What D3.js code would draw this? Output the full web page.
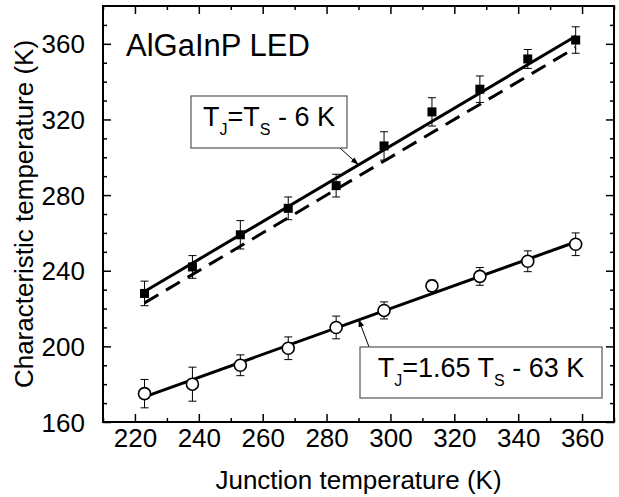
<!DOCTYPE html>
<html lang="en">
<head>
    <meta charset="UTF-8">
    <title>AlGaInP LED characteristic temperature</title>
    <script src="https://d3js.org/d3.v7.min.js"></script>
    <style>
        body { margin: 0; background: #fff; }
        text { font-family: "Liberation Sans", Arial, sans-serif; fill: #000; }
        .axis path { display: none; }
        .axis line { stroke: #000; stroke-width: 1.5; }
        .axis text { font-size: 26px; }
    </style>
</head>
<body>
    <svg id="chart" width="619" height="497"></svg>

    <script>
        // junction temperature (x) for every measured point
        const junctionT = [223, 238, 253, 268, 283, 298, 313, 328, 343, 358];
        // filled squares
        const squareT = [228, 242, 259, 273, 285, 306, 324, 336, 352, 362];
        const squareErr = [6.5, 6, 7.5, 6, 6, 7.5, 7.5, 7, 5, 7];
        // open circles
        const circleT = [175, 180, 190, 199, 210, 219, 232, 237, 245, 254];
        const circleErr = [7.5, 9, 5.5, 6, 6, 4.5, 3, 4.7, 5.5, 6];
        // fitted lines, end points [Tj, Ts]
        const fitSquare = [[223, 229], [358, 364]];
        const fitDashed = [[223, 223], [358, 358]];
        const fitCircle = [[223, 173.3], [358, 255.2]];

        const xTicks = [220, 240, 260, 280, 300, 320, 340, 360];
        const xMinor = [210, 230, 250, 270, 290, 310, 330, 350, 370];
        const yTicks = [160, 200, 240, 280, 320, 360];
        const yMinor = [170, 180, 190, 210, 220, 230, 250, 260, 270, 290, 300, 310, 330, 340, 350, 370];

        const svg = d3.select("#chart");
        const W = 619, H = 497;
        const m = { left: 103, right: 5, top: 6, bottom: 75 };

        const x = d3.scaleLinear().domain([210, 370]).range([m.left, W - m.right]);
        const y = d3.scaleLinear().domain([160, 380]).range([H - m.bottom, m.top]);

        // axes, ticks pointing inward on all four sides
        const bottom = H - m.bottom, right = W - m.right;
        svg.append("g").attr("class", "axis").attr("transform", `translate(0,${bottom})`)
            .call(d3.axisBottom(x).tickValues(xTicks).tickSize(-8).tickPadding(16).tickFormat(d3.format("d")));
        svg.append("g").attr("class", "axis").attr("transform", `translate(0,${bottom})`)
            .call(d3.axisBottom(x).tickValues(xMinor).tickSize(-4).tickFormat(""));
        svg.append("g").attr("class", "axis").attr("transform", `translate(0,${m.top})`)
            .call(d3.axisTop(x).tickValues(xTicks).tickSize(-8).tickFormat(""));
        svg.append("g").attr("class", "axis").attr("transform", `translate(0,${m.top})`)
            .call(d3.axisTop(x).tickValues(xMinor).tickSize(-4).tickFormat(""));

        svg.append("g").attr("class", "axis").attr("transform", `translate(${m.left},0)`)
            .call(d3.axisLeft(y).tickValues(yTicks).tickSize(-8).tickPadding(18).tickFormat(d3.format("d")));
        svg.append("g").attr("class", "axis").attr("transform", `translate(${m.left},0)`)
            .call(d3.axisLeft(y).tickValues(yMinor).tickSize(-4).tickFormat(""));
        svg.append("g").attr("class", "axis").attr("transform", `translate(${right},0)`)
            .call(d3.axisRight(y).tickValues(yTicks).tickSize(-8).tickFormat(""));
        svg.append("g").attr("class", "axis").attr("transform", `translate(${right},0)`)
            .call(d3.axisRight(y).tickValues(yMinor).tickSize(-4).tickFormat(""));

        svg.selectAll(".axis text").attr("dy", null).attr("dominant-baseline", "central");

        svg.append("rect")
            .attr("x", m.left).attr("y", m.top)
            .attr("width", right - m.left).attr("height", bottom - m.top)
            .attr("fill", "none").attr("stroke", "#000").attr("stroke-width", 2);

        // axis titles
        svg.append("text").attr("x", (m.left + right) / 2).attr("y", 489)
            .attr("text-anchor", "middle").style("font-size", "26px")
            .text("Junction temperature (K)");
        svg.append("text")
            .attr("transform", `translate(33,${(m.top + bottom) / 2}) rotate(-90)`)
            .attr("text-anchor", "middle").style("font-size", "26px")
            .text("Characteristic temperature (K)");

        svg.append("text").attr("x", 126).attr("y", 56).style("font-size", "31px").text("AlGaInP LED");

        // fitted lines
        const line = d3.line().x(d => x(d[0])).y(d => y(d[1]));
        svg.append("path").datum(fitDashed).attr("d", line)
            .attr("fill", "none").attr("stroke", "#000").attr("stroke-width", 3).attr("stroke-dasharray", "16,9");
        svg.append("path").datum(fitSquare).attr("d", line)
            .attr("fill", "none").attr("stroke", "#000").attr("stroke-width", 3);
        svg.append("path").datum(fitCircle).attr("d", line)
            .attr("fill", "none").attr("stroke", "#000").attr("stroke-width", 3);

        // error bars
        function errorBars(vals, errs) {
            const g = svg.append("g").attr("stroke", "#000").attr("stroke-width", 1);
            junctionT.forEach((t, i) => {
                const cx = x(t), lo = y(vals[i] - errs[i]), hi = y(vals[i] + errs[i]);
                g.append("line").attr("x1", cx).attr("x2", cx).attr("y1", lo).attr("y2", hi);
                g.append("line").attr("x1", cx - 4).attr("x2", cx + 4).attr("y1", lo).attr("y2", lo);
                g.append("line").attr("x1", cx - 4).attr("x2", cx + 4).attr("y1", hi).attr("y2", hi);
            });
        }
        errorBars(squareT, squareErr);
        errorBars(circleT, circleErr);

        svg.selectAll(".sq").data(junctionT).enter().append("rect").attr("class", "sq")
            .attr("x", d => x(d) - 4.5).attr("y", (d, i) => y(squareT[i]) - 4.5)
            .attr("width", 9).attr("height", 9).attr("fill", "#000");
        svg.selectAll(".ci").data(junctionT).enter().append("circle").attr("class", "ci")
            .attr("cx", d => x(d)).attr("cy", (d, i) => y(circleT[i]))
            .attr("r", 6).attr("fill", "#fff").attr("stroke", "#000").attr("stroke-width", 1.6);

        // annotation boxes with arrows
        svg.append("defs").append("marker").attr("id", "head")
            .attr("viewBox", "0 0 10 10").attr("refX", 10).attr("refY", 5)
            .attr("markerWidth", 8).attr("markerHeight", 8).attr("orient", "auto")
            .append("path").attr("d", "M0,1.5L10,5L0,8.5Z").attr("fill", "#000");

        function note(bx, by, bw, bh, parts, ax1, ay1, tj, ts) {
            svg.append("line").attr("x1", ax1).attr("y1", ay1).attr("x2", x(tj)).attr("y2", y(ts))
                .attr("stroke", "#000").attr("stroke-width", 1).attr("marker-end", "url(#head)");
            svg.append("rect").attr("x", bx).attr("y", by).attr("width", bw).attr("height", bh)
                .attr("fill", "#fff").attr("stroke", "#555").attr("stroke-width", 1.2);
            const t = svg.append("text").attr("x", bx + bw / 2).attr("y", by + 30)
                .attr("text-anchor", "middle").style("font-size", "27px");
            parts.forEach(p => {
                const s = t.append("tspan").text(p[0]);
                if (p[1]) s.attr("dy", 9).style("font-size", "16px");
                else if (p[2]) s.attr("dy", -9);
            });
        }
        note(191, 96, 156, 52, [["T"], ["J", true], ["=T", false, true], ["S", true], [" - 6 K", false, true]],
            340, 148, 290, 296);
        note(360, 347, 242, 51, [["T"], ["J", true], ["=1.65 T", false, true], ["S", true], [" - 63 K", false, true]],
            369, 347, 290, 214.5);
    </script>
</body>
</html>
